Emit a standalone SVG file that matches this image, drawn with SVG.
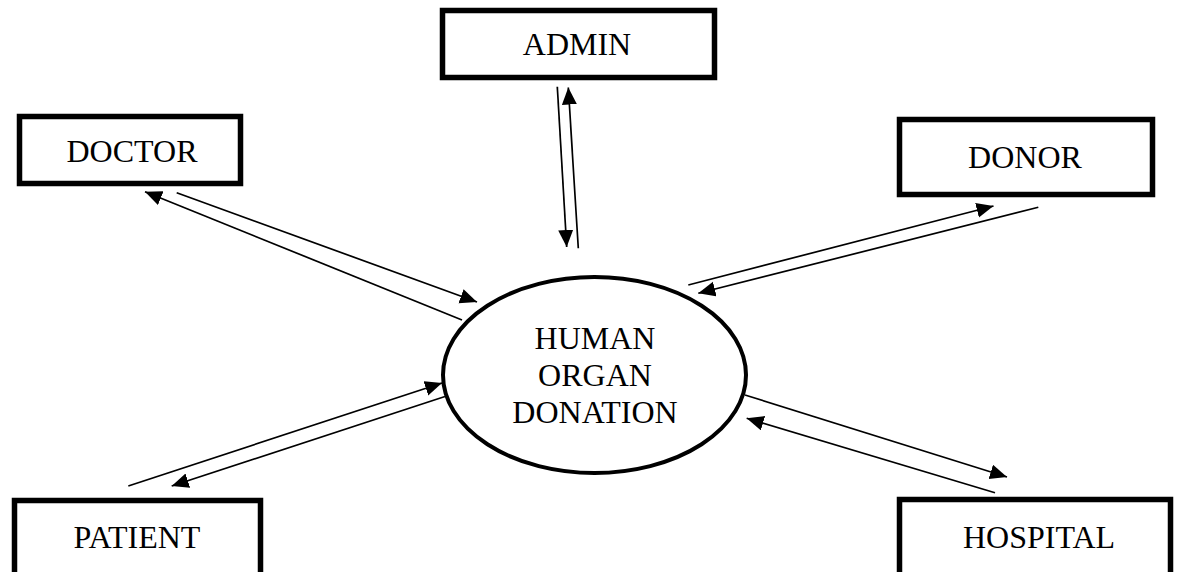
<svg xmlns="http://www.w3.org/2000/svg" width="1181" height="572" viewBox="0 0 1181 572">
<style>
.box{fill:#fff;stroke:#000;stroke-width:5.5}
.lbl{font-family:"Liberation Serif","Times New Roman",serif;font-size:32px;fill:#000;text-anchor:middle}
.arr{stroke:#000;stroke-width:1.7;fill:none;marker-end:url(#ah)}
</style>
<defs>
<marker id="ah" markerUnits="userSpaceOnUse" markerWidth="18" markerHeight="16" refX="17" refY="7.5" orient="auto" viewBox="0 0 18 16">
<path d="M0,0 L17,7.5 L0,15 z" fill="#000"/>
</marker>
</defs>
<rect width="1181" height="572" fill="#fff"/>
<g id="connectors">
<line class="arr" x1="557.3" y1="86.7" x2="566.7" y2="247"/>
<line class="arr" x1="578.3" y1="248.3" x2="568.3" y2="87.5"/>
<line class="arr" x1="176.7" y1="192.7" x2="477" y2="302"/>
<line class="arr" x1="462" y1="320" x2="145" y2="191.7"/>
<line class="arr" x1="688.3" y1="285" x2="993.5" y2="206"/>
<line class="arr" x1="1038.3" y1="207.3" x2="698.3" y2="293.3"/>
<line class="arr" x1="128.3" y1="486" x2="442" y2="383"/>
<line class="arr" x1="445" y1="396.5" x2="171.7" y2="486"/>
<line class="arr" x1="745" y1="395" x2="1007" y2="477"/>
<line class="arr" x1="995" y1="492.7" x2="746.7" y2="418.3"/>
</g>
<g id="admin">
<rect class="box" x="442.5" y="10.5" width="272" height="67"/>
<text class="lbl" x="577" y="55">ADMIN</text>
</g>
<g id="doctor">
<rect class="box" x="19.5" y="116.5" width="221" height="67"/>
<text class="lbl" x="132" y="162">DOCTOR</text>
</g>
<g id="donor">
<rect class="box" x="899.5" y="119.5" width="253" height="75"/>
<text class="lbl" x="1025" y="168">DONOR</text>
</g>
<g id="patient">
<rect class="box" x="14.5" y="500.5" width="246" height="100"/>
<text class="lbl" x="137" y="548">PATIENT</text>
</g>
<g id="hospital">
<rect class="box" x="899.5" y="499.5" width="271" height="100"/>
<text class="lbl" x="1039" y="548">HOSPITAL</text>
</g>
<g id="center">
<ellipse cx="594.5" cy="375" rx="151.5" ry="98" fill="#fff" stroke="#000" stroke-width="4"/>
<text class="lbl" x="595" y="349">HUMAN</text>
<text class="lbl" x="595" y="386">ORGAN</text>
<text class="lbl" x="595" y="423">DONATION</text>
</g>
</svg>
